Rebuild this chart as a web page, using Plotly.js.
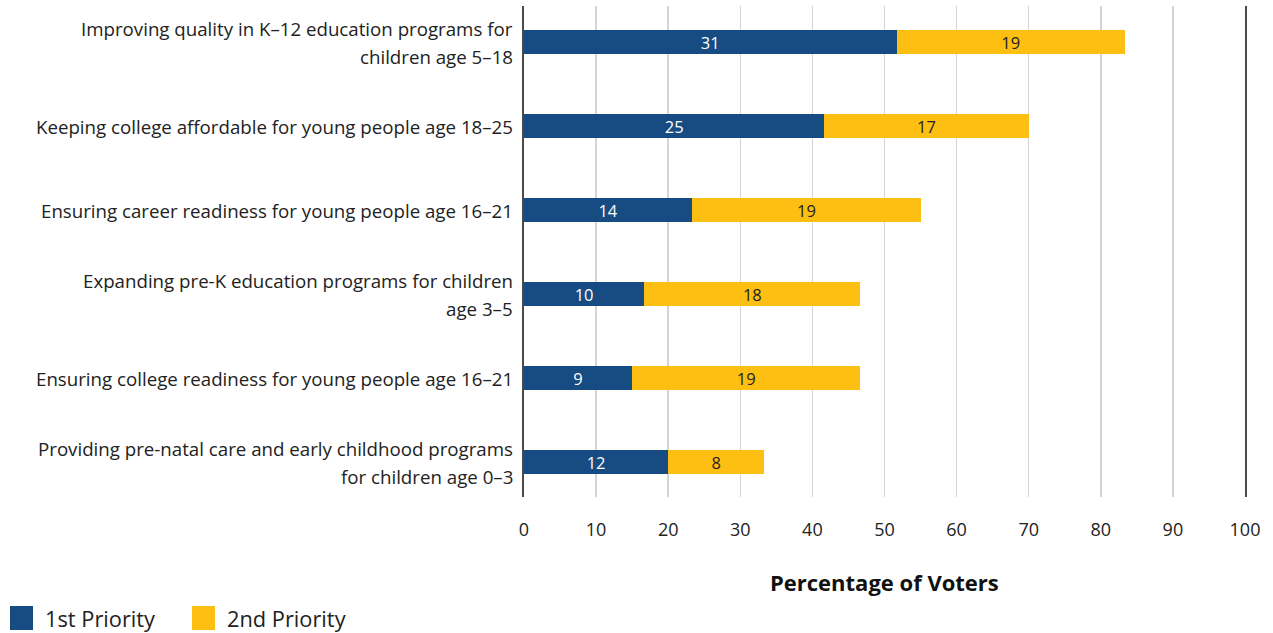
<!DOCTYPE html>
<html>
<head>
<meta charset="utf-8">
<script src="https://cdn.plot.ly/plotly-3.0.1.min.js"></script>
<style>html,body{margin:0;padding:0;background:#fff}#chart{width:1273px;height:633px}</style>
</head>
<body>
<div id="chart"></div>
<script>
const categories = [
  "Improving quality in K\u201312 education programs for\nchildren age 5\u201318",
  "Keeping college affordable for young people age 18\u201325",
  "Ensuring career readiness for young people age 16\u201321",
  "Expanding pre-K education programs for children\nage 3\u20135",
  "Ensuring college readiness for young people age 16\u201321",
  "Providing pre-natal care and early childhood programs\nfor children age 0\u20133"
];
const firstPriority = [31, 25, 14, 10, 9, 12];
const secondPriority = [19, 17, 19, 18, 19, 8];
const tickLabels = ["0","10","20","30","40","50","60","70","80","90","100"];
const seriesNames = ["1st Priority", "2nd Priority"];
const axisTitle = "Percentage of Voters";

const BLUE = "#164c82", YELLOW = "#fdbf11";
const FONT = "'Open Sans', Lato, sans-serif";
const ids = categories.map((c, i) => "c" + i);
// printed axis scale: the axis marked 0-100 spans 60 data units in the source
const axisMax = 60;
const tickVals = tickLabels.map((t, i) => i * axisMax / (tickLabels.length - 1));

const traces = [
  {type: "bar", orientation: "h", name: seriesNames[0], y: ids, x: firstPriority,
   marker: {color: BLUE}, text: firstPriority.map(String), textposition: "inside", textangle: 0,
   constraintext: "none", insidetextanchor: "middle",
   textfont: {color: "#ffffff", size: 16.5, family: FONT},
   width: 0.286, hoverinfo: "x", showlegend: false},
  {type: "bar", orientation: "h", name: seriesNames[1], y: ids, x: secondPriority,
   marker: {color: YELLOW}, text: secondPriority.map(String), textposition: "inside", textangle: 0,
   constraintext: "none", insidetextanchor: "middle",
   textfont: {color: "#222222", size: 16.5, family: FONT},
   width: 0.286, hoverinfo: "x", showlegend: false}
];

const annotations = [];
categories.forEach((c, i) => {
  const lines = c.split("\n");
  const n = lines.length;
  lines.forEach((ln, j) => {
    annotations.push({xref: "paper", yref: "y", x: 0, y: ids[i], xanchor: "right", yanchor: "middle",
      xshift: -9, yshift: ((n - 1) / 2 - j) * 28, text: ln, showarrow: false,
      font: {size: 18.7, color: "#222222", family: FONT}});
  });
});
annotations.push({xref: "paper", yref: "paper", x: 0.5, y: 0, yshift: -85, xanchor: "center", yanchor: "middle",
  text: "<b>" + axisTitle + "</b>", showarrow: false, font: {size: 22, color: "#111111", family: FONT}});

// manual legend
const legendX = [10, 192];
const shapes = [];
seriesNames.forEach((nm, i) => {
  shapes.push({type: "rect", xref: "paper", yref: "paper", layer: "above",
    x0: (legendX[i] - 524) / 721, x1: (legendX[i] + 23 - 524) / 721,
    y0: -(606 - 497) / 491, y1: -(630 - 497) / 491,
    fillcolor: i === 0 ? BLUE : YELLOW, line: {width: 0}});
  annotations.push({xref: "paper", yref: "paper", x: (legendX[i] + 33 - 524) / 721, y: -(618 - 497) / 491,
    xanchor: "left", yanchor: "middle", text: nm, showarrow: false,
    font: {size: 21.8, color: "#222222", family: FONT}});
});

const layout = {
  width: 1273, height: 633,
  margin: {l: 524, r: 28, t: 6, b: 136},
  paper_bgcolor: "#ffffff", plot_bgcolor: "#ffffff",
  barmode: "stack",
  bargap: 0,
  font: {family: FONT, color: "#222222"},
  xaxis: {range: [0, axisMax], tickvals: tickVals, ticktext: tickLabels, showgrid: true,
    gridcolor: "#d4d4d4", gridwidth: 1.5, zeroline: false, showline: false, ticks: "",
    tickfont: {size: 18, color: "#222222", family: FONT}, ticklabelstandoff: 20, fixedrange: true},
  yaxis: {type: "category", categoryorder: "array", categoryarray: ids,
    range: [5.4167, -0.4286], showticklabels: false, showgrid: false, zeroline: false,
    showline: true, mirror: true, linecolor: "#4a4a4a", linewidth: 2, ticks: "", fixedrange: true},
  annotations: annotations,
  shapes: shapes,
  showlegend: false
};

Plotly.newPlot("chart", traces, layout, {displayModeBar: false, staticPlot: true});
</script>
</body>
</html>
